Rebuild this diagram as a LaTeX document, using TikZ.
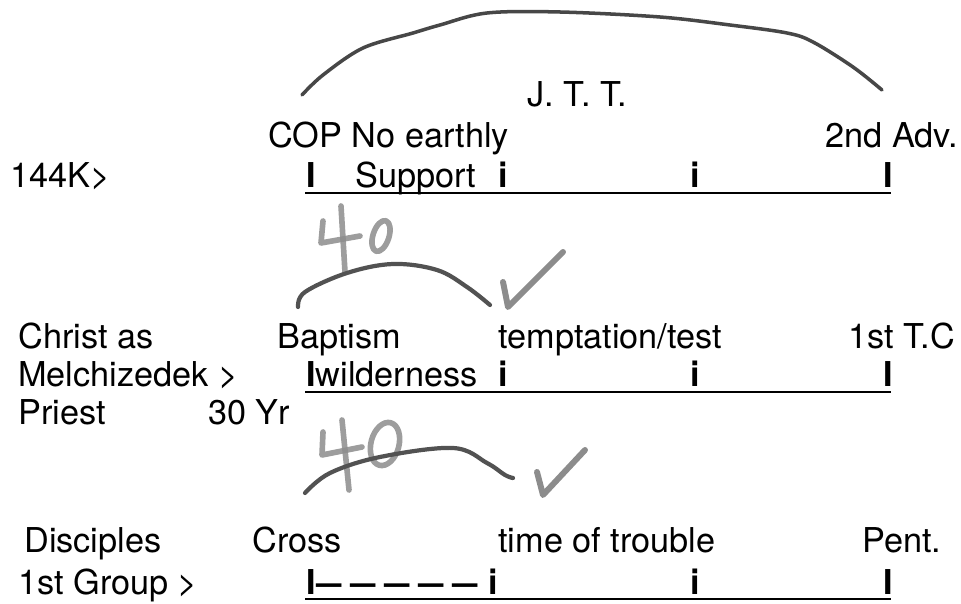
\documentclass[tikz,border=0pt]{standalone}
\usepackage{fontspec}
\setmainfont{TeX Gyre Heros}
\usepackage{graphicx}
\usepackage{tikz}
\usetikzlibrary{calc}
\newcommand{\gdash}{\scalebox{0.74}[1]{\textbf{—}}}
\tikzset{
  lbl/.style={anchor=base west,inner sep=0pt,font=\fontsize{19.5}{23}\selectfont},
  notch/.style={lbl,font=\fontsize{19.5}{23}\selectfont\bfseries},
  rule/.style={line width=1.1pt,black},
  span/.style={line width=2pt,black!72,line cap=round,line join=round},
  arcpen/.style={line width=2.4pt,black!68,line cap=round,line join=round},
  digit/.style={line width=3.2pt,black!45,opacity=0.85,line cap=round,line join=round},
  checkpen/.style={line width=3.4pt,black!45,line cap=round,line join=round},
}
\begin{document}
\begin{tikzpicture}[x=0.02cm,y=-0.02cm]
  \useasboundingbox (0,0) rectangle (961,604);
  % row 1
  \node[lbl](jtt) at (527,107){J. T. T.};
  \node[lbl](cop) at (268,148){COP No earthly}; \node[lbl](adv) at (825,148){2nd Adv.};
  \node[lbl](k144) at (10,188){144K>};
  \node[notch](a0) at (306,188){I}; \node[lbl](sup) at (355,188){Support};
  \node[notch](a1) at (498,188){i}; \node[notch](a2) at (690,188){i}; \node[notch](a3) at (883,188){I};
  \coordinate (ua) at (305,193); \coordinate (ub) at (891,193);
  \draw[rule] (ua) -- (ub);
  \draw[span] plot[smooth,tension=0.55] coordinates {(302,95) (323,75) (363,48) (413,33) (440,25) (487,13) (560,12) (660,17) (730,25) (787,33) (813,42) (853,67) (882,90)};
  % row 2
  \node[lbl](chr) at (18,349){Christ as}; \node[lbl](bap) at (277,349){Baptism};
  \node[lbl](tmp) at (498,349){temptation/test}; \node[lbl](tc) at (848,349){1st T.C};
  \node[lbl](mel) at (18,387){Melchizedek >};
  \node[lbl](b0) at (306,387){\textbf{I}wilderness};
  \node[notch](b1) at (498,387){i}; \node[notch](b2) at (690,387){i}; \node[notch](b3) at (883,387){I};
  \coordinate (va) at (305,392); \coordinate (vb) at (891,392);
  \draw[rule] (va) -- (vb);
  \node[lbl](pri) at (18,425){Priest}; \node[lbl](yr) at (208,425){30 Yr};
  \draw[digit] (323,221) -- (321,243) -- (360,236); \draw[digit] (341,206) -- (345,272);
  \draw[digit,rotate around={-18:(381,236)}] (381,236) ellipse (8 and 16);
  \draw[arcpen] plot[smooth,tension=0.6] coordinates {(298,307) (305,292) (347,273) (393,264) (437,270) (467,287) (490,305)};
  \draw[checkpen] (503,282) -- (508,307) -- (563,252);
  % row 3
  \node[lbl](dis) at (24,553){Disciples}; \node[lbl](crs) at (252,553){Cross};
  \node[lbl](tot) at (498,553){time of trouble}; \node[lbl](pen) at (862,553){Pent.};
  \node[lbl](grp) at (18,595){1st Group >};
  \node[notch](c0) at (306,595){I};
  \foreach \k in {0,...,4} \node[lbl](d\k) at ({316+34*\k},595){\gdash};
  \node[notch](c1) at (488,595){i}; \node[notch](c2) at (690,595){i}; \node[notch](c3) at (883,595){I};
  \coordinate (wa) at (305,599); \coordinate (wb) at (891,599);
  \draw[rule] (wa) -- (wb);
  \draw[digit] (323,432) -- (322,455) -- (362,447); \draw[digit] (342,420) -- (349,490);
  \draw[digit,rotate around={-15:(385,444)}] (385,444) ellipse (14 and 22);
  \draw[arcpen] plot[smooth,tension=0.6] coordinates {(305,493) (330,473) (380,457) (453,448) (487,463) (505,475) (513,478)};
  \draw[checkpen] (537,472) -- (543,495) -- (585,450);
\end{tikzpicture}
\end{document}
